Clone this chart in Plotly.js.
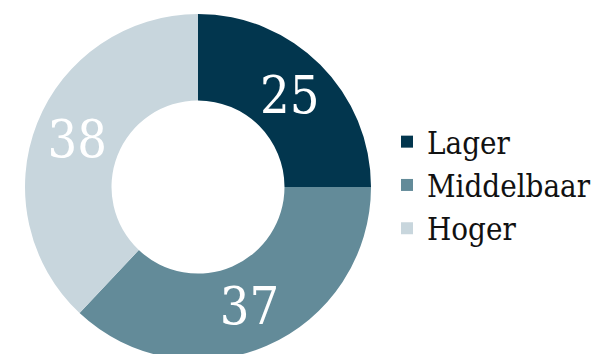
<!DOCTYPE html>
<html>
<head>
<meta charset="utf-8">
<script src="https://cdn.plot.ly/plotly-3.0.1.min.js"></script>
<style>
  html, body { margin: 0; padding: 0; background: #ffffff; overflow: hidden; }
  #chart { width: 595px; height: 400px; }
</style>
</head>
<body>
<div id="chart"></div>
<script>
// Data
const categories = ["Lager", "Middelbaar", "Hoger"];
const values = [25, 37, 38];
const sliceColors = ["#02364e", "#638b99", "#c8d6dd"];

const W = 595, H = 400;
const cx = 198, cy = 187, R = 173;
const FONT = "'DejaVu Serif Condensed', 'Liberation Serif', serif";

const trace = {
  type: "pie",
  labels: categories,
  values: values,
  sort: false,
  direction: "clockwise",
  rotation: 0,
  hole: 0.5,
  marker: { colors: sliceColors, line: { color: sliceColors, width: 0 } },
  textinfo: "value",
  textposition: "inside",
  insidetextorientation: "horizontal",
  textfont: { family: FONT, size: 52, color: "#ffffff" },
  domain: {
    x: [(cx - R) / W, (cx + R) / W],
    y: [(H - cy - R) / H, (H - cy + R) / H]
  },
  hoverinfo: "label+value"
};

const layout = {
  width: W,
  height: H,
  margin: { l: 0, r: 0, t: 0, b: 0, autoexpand: false },
  paper_bgcolor: "#ffffff",
  showlegend: true,
  legend: {
    x: 387 / W,
    xanchor: "left",
    y: (H - 185) / H,
    yanchor: "middle",
    font: { family: FONT, size: 31, color: "#111111" },
    bgcolor: "rgba(0,0,0,0)"
  }
};

Plotly.newPlot("chart", [trace], layout, { displayModeBar: false, staticPlot: true });
</script>
</body>
</html>
